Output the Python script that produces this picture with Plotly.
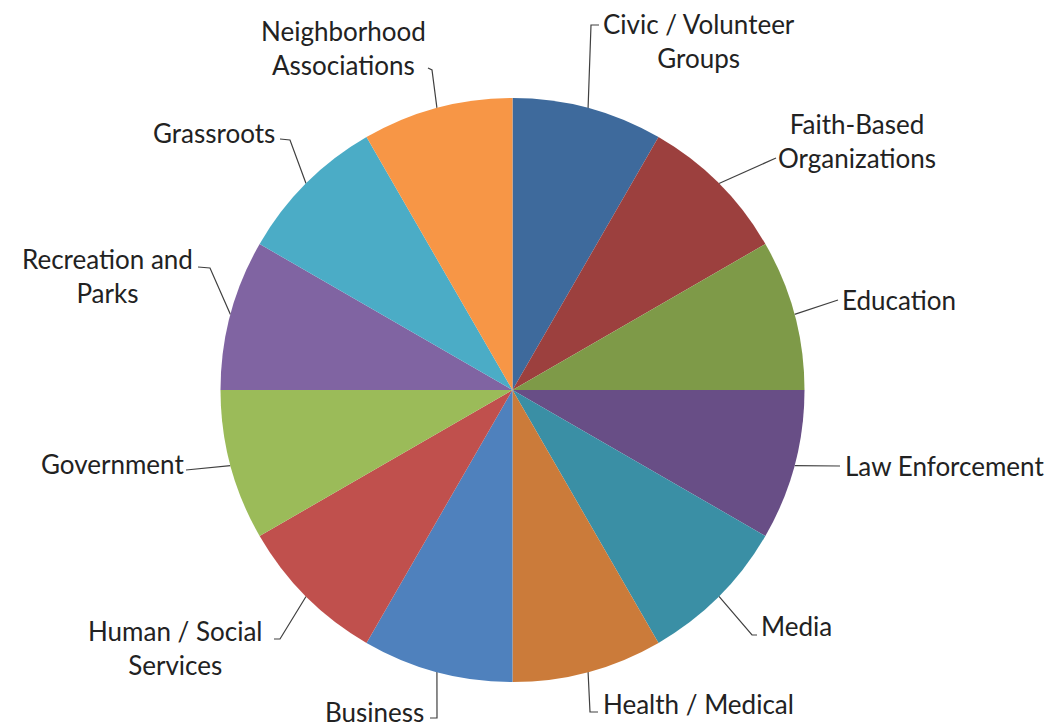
import math
import plotly.graph_objects as go

# ---- data ----
categories = ["Civic / Volunteer<br>Groups", "Faith-Based<br>Organizations", "Education",
              "Law Enforcement", "Media", "Health / Medical", "Business",
              "Human / Social<br>Services", "Government", "Recreation and<br>Parks",
              "Grassroots", "Neighborhood<br>Associations"]
values = [1, 1, 1, 1, 1, 1, 1, 1, 1, 1, 1, 1]
colors = ["#3E6A9C", "#9C403E", "#7E9A48", "#684E86", "#3A8FA5", "#CB7B3A",
          "#4F81BD", "#C0504D", "#9BBB59", "#8064A2", "#4BACC6", "#F79646"]

# ---- layout geometry (screen pixels) ----
W, H = 1055, 726
OX, OY = 8, 8            # page offset of the plot
CX, CY, R = 512.5, 390.0, 292.0
# per label: elbow point, end of leader, text anchor x, text center y, xanchor
label_layout = [
    ((591, 25), (599, 25), 601, 41, "left"),
    ((770, 160), (776, 158), 776, 141, "left"),
    ((836, 300), (838, 300), 840, 300, "left"),
    ((833, 466), (840, 466), 843, 466, "left"),
    ((752, 635), (757, 635), 759, 626, "left"),
    ((590, 712), (598, 712), 601, 704, "left"),
    ((437, 718), (430, 718), 426, 712, "right"),
    ((280, 639), (274, 639), 264, 648, "right"),
    ((192, 469), (186, 470), 186, 464, "right"),
    ((210, 268), (198, 267), 195, 276, "right"),
    ((290, 140), (280, 139), 277, 133, "right"),
    ((432, 70), (428, 68), 428, 48, "right"),
]

fig = go.Figure()
fig.add_trace(go.Pie(
    labels=categories, values=values, sort=False, direction="clockwise",
    rotation=0, marker=dict(colors=colors, line=dict(width=0)),
    textinfo="none", hoverinfo="label", showlegend=False,
    domain=dict(x=[(CX - R - OX) / W, (CX + R - OX) / W],
                y=[1 - (CY + R - OY) / H, 1 - (CY - R - OY) / H]),
))

total = sum(values)
cum = 0
for i, (cat, v) in enumerate(zip(categories, values)):
    mid = (cum + v / 2) / total * 2 * math.pi
    cum += v
    sx = CX + R * math.sin(mid)
    sy = CY - R * math.cos(mid)
    (ex, ey), (tx, ty), ax, ay, anchor = label_layout[i]
    fig.add_trace(go.Scatter(x=[sx, ex, tx], y=[sy, ey, ty], mode="lines",
                             line=dict(color="#404040", width=1.2),
                             hoverinfo="skip", showlegend=False))
    fig.add_annotation(x=ax, y=ay, xref="x", yref="y", text=cat, showarrow=False,
                       xanchor=anchor, yanchor="middle", align="center",
                       font=dict(family="Lato", size=26, color="#222222"))

fig.update_xaxes(range=[OX, W + OX], visible=False, fixedrange=True)
fig.update_yaxes(range=[H + OY, OY], visible=False, fixedrange=True)
fig.update_layout(width=W, height=H, margin=dict(l=0, r=0, t=0, b=0),
                  paper_bgcolor="white", plot_bgcolor="rgba(0,0,0,0)")
fig.write_html("out.html")
